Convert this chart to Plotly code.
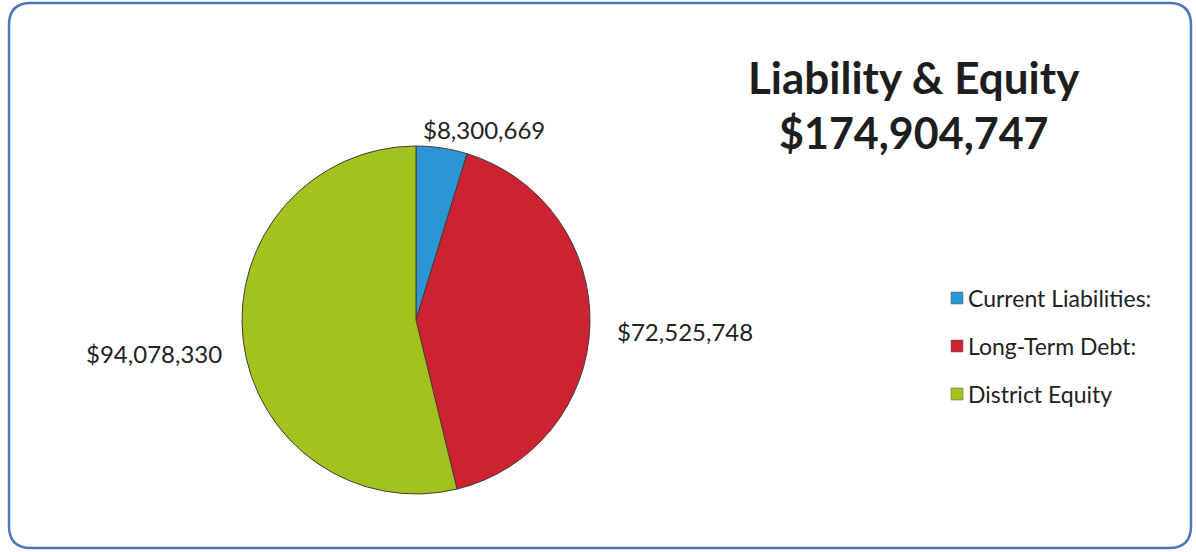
import plotly.graph_objects as go

# Balance-sheet components (USD)
categories = ["Current Liabilities:", "Long-Term Debt:", "District Equity"]
amounts = [8300669, 72525748, 94078330]
colors = ["#2a97d4", "#cc2231", "#a4c21d"]

title_line1 = "Liability & Equity"
total = sum(amounts)

W, H = 1196, 552
FONT = "Lato, 'Open Sans', sans-serif"

# pie placement in pixels
cx, cy, r = 416, 320, 174

fig = go.Figure()
fig.add_trace(go.Pie(
    labels=categories,
    values=amounts,
    sort=False,
    direction="clockwise",
    rotation=0,
    textinfo="none",
    hoverinfo="label+value",
    showlegend=False,
    marker=dict(colors=colors, line=dict(color="#4a3a36", width=1)),
    domain=dict(x=[(cx - r) / W, (cx + r) / W],
                y=[(H - cy - r) / H, (H - cy + r) / H]),
))

# rounded frame around the chart
x0, y0, x1, y1, rad = 9, 3, 1191, 548, 22
def px(x):
    return x / W
def py(y):
    return 1 - y / H
path = (f"M {px(x0 + rad)},{py(y0)} L {px(x1 - rad)},{py(y0)} "
        f"Q {px(x1)},{py(y0)} {px(x1)},{py(y0 + rad)} "
        f"L {px(x1)},{py(y1 - rad)} Q {px(x1)},{py(y1)} {px(x1 - rad)},{py(y1)} "
        f"L {px(x0 + rad)},{py(y1)} Q {px(x0)},{py(y1)} {px(x0)},{py(y1 - rad)} "
        f"L {px(x0)},{py(y0 + rad)} Q {px(x0)},{py(y0)} {px(x0 + rad)},{py(y0)} Z")
shapes = [dict(type="path", path=path, xref="paper", yref="paper",
               line=dict(color="#4a78b8", width=2.5), layer="below")]

annotations = []
# value labels beside each slice
label_pos = [(484, 130), (685, 331), (154, 353)]
for val, (lx, ly) in zip(amounts, label_pos):
    annotations.append(dict(
        x=px(lx), y=py(ly), xref="paper", yref="paper", showarrow=False,
        text=f"${val:,}", font=dict(family=FONT, size=24, color="#222222"),
        xanchor="center", yanchor="middle"))

# title block
annotations.append(dict(
    x=px(914), y=py(77), xref="paper", yref="paper", showarrow=False,
    text=f"<b>{title_line1}</b>", font=dict(family=FONT, size=44, color="#1e1e1e"),
    xanchor="center", yanchor="middle"))
annotations.append(dict(
    x=px(914), y=py(133), xref="paper", yref="paper", showarrow=False,
    text=f"<b>${total:,}</b>", font=dict(family=FONT, size=43, color="#1e1e1e"),
    xanchor="center", yanchor="middle"))

# legend drawn as swatches + text
leg_x, leg_y0, leg_dy, sw = 951, 298, 48, 12
for i, (cat, col) in enumerate(zip(categories, colors)):
    ly = leg_y0 + i * leg_dy
    shapes.append(dict(type="rect", xref="paper", yref="paper",
                       x0=px(leg_x), x1=px(leg_x + sw),
                       y0=py(ly + sw / 2), y1=py(ly - sw / 2),
                       fillcolor=col, line=dict(color="#555555", width=0.5)))
    annotations.append(dict(
        x=px(leg_x + sw + 3), y=py(ly), xref="paper", yref="paper", showarrow=False,
        text=cat, font=dict(family=FONT, size=23, color="#222222"),
        xanchor="left", yanchor="middle"))

fig.update_layout(
    width=W, height=H,
    margin=dict(l=0, r=0, t=0, b=0),
    paper_bgcolor="white",
    plot_bgcolor="white",
    shapes=shapes,
    annotations=annotations,
)

fig.write_html("out.html")
